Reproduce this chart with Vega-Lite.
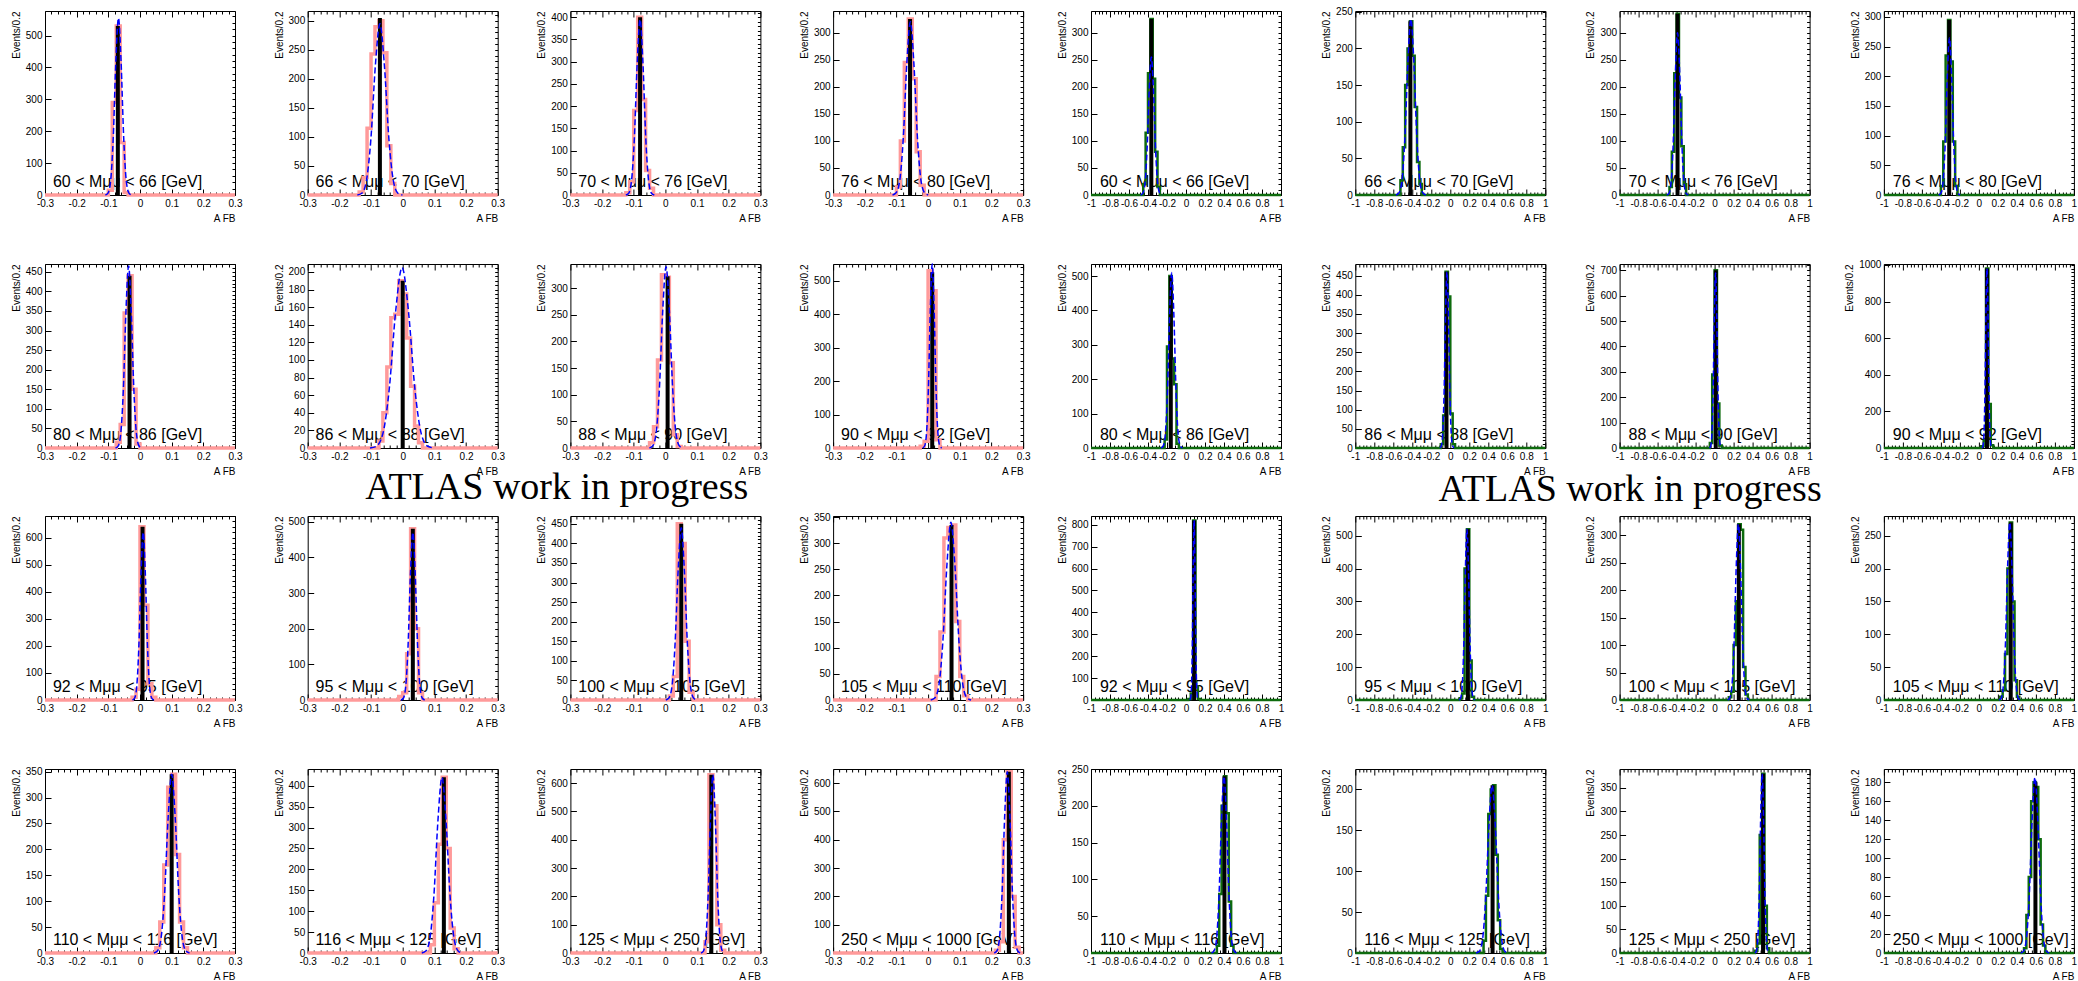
{
"$schema":"https://vega.github.io/schema/vega-lite/v6.json",
"padding":{"left":10,"top":6,"right":0,"bottom":0},
"background":"white",
"config":{"font":"Liberation Sans","view":{"stroke":"black","strokeWidth":1},
"header":{"labels":false,"title":null,"labelFontSize":0.1,"labelPadding":0,"titlePadding":0,"labelExpr":"''"},
"headerFacet":{"labels":false,"title":null,"labelFontSize":0.1,"labelPadding":0,"titlePadding":0,"labelExpr":"''"},
"axis":{"grid":false,"domain":false,"labelFont":"Liberation Sans","labelFontSize":10,"labelColor":"black","tickColor":"black","tickWidth":1,"titleFont":"Liberation Sans","titleFontSize":10,"titleFontWeight":"normal","titleColor":"black"}},
"datasets":{
"tl":[
{"p":0,"s":"l","t":"60 < Mμμ < 66 [GeV]"},{"p":0,"s":"m","x":-0.3,"y":577},{"p":0,"s":"t","x":-0.07,"y":530},
{"p":0,"s":"h","x":-0.3,"y":0},{"p":0,"s":"h","x":-0.1,"y":15},{"p":0,"s":"h","x":-0.0875,"y":290},{"p":0,"s":"h","x":-0.075,"y":530},{"p":0,"s":"h","x":-0.0625,"y":165},{"p":0,"s":"h","x":-0.05,"y":8},{"p":0,"s":"h","x":-0.0375,"y":0},{"p":0,"s":"h","x":0.3,"y":0},
{"p":0,"s":"f","x":-0.1093,"y":0},{"p":0,"s":"f","x":-0.101,"y":6},{"p":0,"s":"f","x":-0.0928,"y":44},{"p":0,"s":"f","x":-0.0845,"y":180},{"p":0,"s":"f","x":-0.0763,"y":419},{"p":0,"s":"f","x":-0.068,"y":555},{"p":0,"s":"f","x":-0.0598,"y":419},{"p":0,"s":"f","x":-0.0515,"y":180},{"p":0,"s":"f","x":-0.0433,"y":44},{"p":0,"s":"f","x":-0.035,"y":6},{"p":0,"s":"f","x":-0.0268,"y":0},
{"p":1,"s":"l","t":"66 < Mμμ < 70 [GeV]"},{"p":1,"s":"m","x":-0.3,"y":317},{"p":1,"s":"t","x":-0.072,"y":305},
{"p":1,"s":"h","x":-0.3,"y":0},{"p":1,"s":"h","x":-0.1375,"y":5},{"p":1,"s":"h","x":-0.125,"y":30},{"p":1,"s":"h","x":-0.1125,"y":115},{"p":1,"s":"h","x":-0.1,"y":243},{"p":1,"s":"h","x":-0.0875,"y":290},{"p":1,"s":"h","x":-0.075,"y":300},{"p":1,"s":"h","x":-0.0625,"y":245},{"p":1,"s":"h","x":-0.05,"y":85},{"p":1,"s":"h","x":-0.0375,"y":20},{"p":1,"s":"h","x":-0.025,"y":0},{"p":1,"s":"h","x":0.3,"y":0},
{"p":1,"s":"f","x":-0.1433,"y":0},{"p":1,"s":"f","x":-0.129,"y":3},{"p":1,"s":"f","x":-0.1148,"y":24},{"p":1,"s":"f","x":-0.1005,"y":96},{"p":1,"s":"f","x":-0.0863,"y":223},{"p":1,"s":"f","x":-0.072,"y":295},{"p":1,"s":"f","x":-0.0578,"y":223},{"p":1,"s":"f","x":-0.0435,"y":96},{"p":1,"s":"f","x":-0.0293,"y":24},{"p":1,"s":"f","x":-0.015,"y":3},{"p":1,"s":"f","x":-0.0008,"y":0},
{"p":2,"s":"l","t":"70 < Mμμ < 76 [GeV]"},{"p":2,"s":"m","x":-0.3,"y":414},{"p":2,"s":"t","x":-0.08,"y":400},
{"p":2,"s":"h","x":-0.3,"y":0},{"p":2,"s":"h","x":-0.125,"y":5},{"p":2,"s":"h","x":-0.1125,"y":30},{"p":2,"s":"h","x":-0.1,"y":190},{"p":2,"s":"h","x":-0.0875,"y":400},{"p":2,"s":"h","x":-0.075,"y":215},{"p":2,"s":"h","x":-0.0625,"y":55},{"p":2,"s":"h","x":-0.05,"y":15},{"p":2,"s":"h","x":-0.0375,"y":0},{"p":2,"s":"h","x":0.3,"y":0},
{"p":2,"s":"f","x":-0.125,"y":0},{"p":2,"s":"f","x":-0.116,"y":4},{"p":2,"s":"f","x":-0.107,"y":32},{"p":2,"s":"f","x":-0.098,"y":128},{"p":2,"s":"f","x":-0.089,"y":298},{"p":2,"s":"f","x":-0.08,"y":395},{"p":2,"s":"f","x":-0.071,"y":298},{"p":2,"s":"f","x":-0.062,"y":128},{"p":2,"s":"f","x":-0.053,"y":32},{"p":2,"s":"f","x":-0.044,"y":4},{"p":2,"s":"f","x":-0.035,"y":0},
{"p":3,"s":"l","t":"76 < Mμμ < 80 [GeV]"},{"p":3,"s":"m","x":-0.3,"y":340},{"p":3,"s":"t","x":-0.057,"y":325},
{"p":3,"s":"h","x":-0.3,"y":0},{"p":3,"s":"h","x":-0.1,"y":15},{"p":3,"s":"h","x":-0.0875,"y":100},{"p":3,"s":"h","x":-0.075,"y":245},{"p":3,"s":"h","x":-0.0625,"y":325},{"p":3,"s":"h","x":-0.05,"y":215},{"p":3,"s":"h","x":-0.0375,"y":80},{"p":3,"s":"h","x":-0.025,"y":18},{"p":3,"s":"h","x":-0.0125,"y":0},{"p":3,"s":"h","x":0.3,"y":0},
{"p":3,"s":"f","x":-0.1123,"y":0},{"p":3,"s":"f","x":-0.101,"y":4},{"p":3,"s":"f","x":-0.0898,"y":26},{"p":3,"s":"f","x":-0.0785,"y":104},{"p":3,"s":"f","x":-0.0673,"y":242},{"p":3,"s":"f","x":-0.056,"y":320},{"p":3,"s":"f","x":-0.0448,"y":242},{"p":3,"s":"f","x":-0.0335,"y":104},{"p":3,"s":"f","x":-0.0223,"y":26},{"p":3,"s":"f","x":-0.011,"y":4},{"p":3,"s":"f","x":0.0003,"y":0},
{"p":8,"s":"l","t":"80 < Mμμ < 86 [GeV]"},{"p":8,"s":"m","x":-0.3,"y":470},{"p":8,"s":"t","x":-0.033,"y":440},
{"p":8,"s":"h","x":-0.3,"y":0},{"p":8,"s":"h","x":-0.075,"y":15},{"p":8,"s":"h","x":-0.0625,"y":60},{"p":8,"s":"h","x":-0.05,"y":345},{"p":8,"s":"h","x":-0.0375,"y":440},{"p":8,"s":"h","x":-0.025,"y":150},{"p":8,"s":"h","x":-0.0125,"y":10},{"p":8,"s":"h","x":0,"y":0},{"p":8,"s":"h","x":0.3,"y":0},
{"p":8,"s":"f","x":-0.0773,"y":0},{"p":8,"s":"f","x":-0.069,"y":5},{"p":8,"s":"f","x":-0.0608,"y":37},{"p":8,"s":"f","x":-0.0525,"y":151},{"p":8,"s":"f","x":-0.0443,"y":351},{"p":8,"s":"f","x":-0.036,"y":465},{"p":8,"s":"f","x":-0.0278,"y":351},{"p":8,"s":"f","x":-0.0195,"y":151},{"p":8,"s":"f","x":-0.0113,"y":37},{"p":8,"s":"f","x":-0.003,"y":5},{"p":8,"s":"f","x":0.0053,"y":0},
{"p":9,"s":"l","t":"86 < Mμμ < 88 [GeV]"},{"p":9,"s":"m","x":-0.3,"y":209},{"p":9,"s":"t","x":0,"y":190},
{"p":9,"s":"h","x":-0.3,"y":0},{"p":9,"s":"h","x":-0.075,"y":8},{"p":9,"s":"h","x":-0.0625,"y":40},{"p":9,"s":"h","x":-0.05,"y":92},{"p":9,"s":"h","x":-0.0375,"y":148},{"p":9,"s":"h","x":-0.025,"y":152},{"p":9,"s":"h","x":-0.0125,"y":190},{"p":9,"s":"h","x":0,"y":175},{"p":9,"s":"h","x":0.0125,"y":125},{"p":9,"s":"h","x":0.025,"y":70},{"p":9,"s":"h","x":0.0375,"y":25},{"p":9,"s":"h","x":0.05,"y":6},{"p":9,"s":"h","x":0.0625,"y":0},{"p":9,"s":"h","x":0.3,"y":0},
{"p":9,"s":"f","x":-0.1033,"y":0},{"p":9,"s":"f","x":-0.083,"y":2},{"p":9,"s":"f","x":-0.0628,"y":16},{"p":9,"s":"f","x":-0.0425,"y":67},{"p":9,"s":"f","x":-0.0223,"y":155},{"p":9,"s":"f","x":-0.002,"y":205},{"p":9,"s":"f","x":0.0183,"y":155},{"p":9,"s":"f","x":0.0385,"y":67},{"p":9,"s":"f","x":0.0588,"y":16},{"p":9,"s":"f","x":0.079,"y":2},{"p":9,"s":"f","x":0.0993,"y":0},
{"p":10,"s":"l","t":"88 < Mμμ < 90 [GeV]"},{"p":10,"s":"m","x":-0.3,"y":345},{"p":10,"s":"t","x":0.007,"y":322},
{"p":10,"s":"h","x":-0.3,"y":0},{"p":10,"s":"h","x":-0.05,"y":10},{"p":10,"s":"h","x":-0.0375,"y":40},{"p":10,"s":"h","x":-0.025,"y":165},{"p":10,"s":"h","x":-0.0125,"y":325},{"p":10,"s":"h","x":0,"y":320},{"p":10,"s":"h","x":0.0125,"y":160},{"p":10,"s":"h","x":0.025,"y":25},{"p":10,"s":"h","x":0.0375,"y":3},{"p":10,"s":"h","x":0.05,"y":0},{"p":10,"s":"h","x":0.3,"y":0},
{"p":10,"s":"f","x":-0.0505,"y":0},{"p":10,"s":"f","x":-0.04,"y":4},{"p":10,"s":"f","x":-0.0295,"y":27},{"p":10,"s":"f","x":-0.019,"y":111},{"p":10,"s":"f","x":-0.0085,"y":257},{"p":10,"s":"f","x":0.002,"y":340},{"p":10,"s":"f","x":0.0125,"y":257},{"p":10,"s":"f","x":0.023,"y":111},{"p":10,"s":"f","x":0.0335,"y":27},{"p":10,"s":"f","x":0.044,"y":4},{"p":10,"s":"f","x":0.0545,"y":0},
{"p":11,"s":"l","t":"90 < Mμμ < 92 [GeV]"},{"p":11,"s":"m","x":-0.3,"y":550},{"p":11,"s":"t","x":0.013,"y":525},
{"p":11,"s":"h","x":-0.3,"y":0},{"p":11,"s":"h","x":-0.025,"y":5},{"p":11,"s":"h","x":-0.0125,"y":20},{"p":11,"s":"h","x":0,"y":530},{"p":11,"s":"h","x":0.0125,"y":470},{"p":11,"s":"h","x":0.025,"y":25},{"p":11,"s":"h","x":0.0375,"y":0},{"p":11,"s":"h","x":0.3,"y":0},
{"p":11,"s":"f","x":-0.017,"y":0},{"p":11,"s":"f","x":-0.011,"y":6},{"p":11,"s":"f","x":-0.005,"y":44},{"p":11,"s":"f","x":0.001,"y":179},{"p":11,"s":"f","x":0.007,"y":415},{"p":11,"s":"f","x":0.013,"y":550},{"p":11,"s":"f","x":0.019,"y":415},{"p":11,"s":"f","x":0.025,"y":179},{"p":11,"s":"f","x":0.031,"y":44},{"p":11,"s":"f","x":0.037,"y":6},{"p":11,"s":"f","x":0.043,"y":0}
],
"tr":[
{"p":4,"s":"l","t":"60 < Mμμ < 66 [GeV]"},{"p":4,"s":"m","x":-1,"y":340},{"p":4,"s":"t","x":-0.365,"y":325},
{"p":4,"s":"h","x":-1,"y":0},{"p":4,"s":"h","x":-0.45,"y":20},{"p":4,"s":"h","x":-0.425,"y":115},{"p":4,"s":"h","x":-0.4,"y":225},{"p":4,"s":"h","x":-0.375,"y":325},{"p":4,"s":"h","x":-0.35,"y":215},{"p":4,"s":"h","x":-0.325,"y":80},{"p":4,"s":"h","x":-0.3,"y":15},{"p":4,"s":"h","x":-0.275,"y":0},{"p":4,"s":"h","x":1,"y":0},
{"p":4,"s":"f","x":-0.4775,"y":0},{"p":4,"s":"f","x":-0.455,"y":3},{"p":4,"s":"f","x":-0.4325,"y":20},{"p":4,"s":"f","x":-0.41,"y":83},{"p":4,"s":"f","x":-0.3875,"y":193},{"p":4,"s":"f","x":-0.365,"y":255},{"p":4,"s":"f","x":-0.3425,"y":193},{"p":4,"s":"f","x":-0.32,"y":83},{"p":4,"s":"f","x":-0.2975,"y":20},{"p":4,"s":"f","x":-0.275,"y":3},{"p":4,"s":"f","x":-0.2525,"y":0},
{"p":5,"s":"l","t":"66 < Mμμ < 70 [GeV]"},{"p":5,"s":"m","x":-1,"y":251},{"p":5,"s":"t","x":-0.42,"y":237},
{"p":5,"s":"h","x":-1,"y":0},{"p":5,"s":"h","x":-0.525,"y":20},{"p":5,"s":"h","x":-0.5,"y":65},{"p":5,"s":"h","x":-0.475,"y":150},{"p":5,"s":"h","x":-0.45,"y":200},{"p":5,"s":"h","x":-0.425,"y":237},{"p":5,"s":"h","x":-0.4,"y":190},{"p":5,"s":"h","x":-0.375,"y":120},{"p":5,"s":"h","x":-0.35,"y":45},{"p":5,"s":"h","x":-0.325,"y":15},{"p":5,"s":"h","x":-0.3,"y":0},{"p":5,"s":"h","x":1,"y":0},
{"p":5,"s":"f","x":-0.5725,"y":0},{"p":5,"s":"f","x":-0.541,"y":3},{"p":5,"s":"f","x":-0.5095,"y":19},{"p":5,"s":"f","x":-0.478,"y":78},{"p":5,"s":"f","x":-0.4465,"y":181},{"p":5,"s":"f","x":-0.415,"y":240},{"p":5,"s":"f","x":-0.3835,"y":181},{"p":5,"s":"f","x":-0.352,"y":78},{"p":5,"s":"f","x":-0.3205,"y":19},{"p":5,"s":"f","x":-0.289,"y":3},{"p":5,"s":"f","x":-0.2575,"y":0},
{"p":6,"s":"l","t":"70 < Mμμ < 76 [GeV]"},{"p":6,"s":"m","x":-1,"y":340},{"p":6,"s":"t","x":-0.39,"y":335},
{"p":6,"s":"h","x":-1,"y":0},{"p":6,"s":"h","x":-0.475,"y":15},{"p":6,"s":"h","x":-0.45,"y":80},{"p":6,"s":"h","x":-0.425,"y":225},{"p":6,"s":"h","x":-0.4,"y":335},{"p":6,"s":"h","x":-0.375,"y":180},{"p":6,"s":"h","x":-0.35,"y":90},{"p":6,"s":"h","x":-0.325,"y":20},{"p":6,"s":"h","x":-0.3,"y":0},{"p":6,"s":"h","x":1,"y":0},
{"p":6,"s":"f","x":-0.5025,"y":0},{"p":6,"s":"f","x":-0.48,"y":3},{"p":6,"s":"f","x":-0.4575,"y":24},{"p":6,"s":"f","x":-0.435,"y":98},{"p":6,"s":"f","x":-0.4125,"y":227},{"p":6,"s":"f","x":-0.39,"y":300},{"p":6,"s":"f","x":-0.3675,"y":227},{"p":6,"s":"f","x":-0.345,"y":98},{"p":6,"s":"f","x":-0.3225,"y":24},{"p":6,"s":"f","x":-0.3,"y":3},{"p":6,"s":"f","x":-0.2775,"y":0},
{"p":7,"s":"l","t":"76 < Mμμ < 80 [GeV]"},{"p":7,"s":"m","x":-1,"y":310},{"p":7,"s":"t","x":-0.3125,"y":295},
{"p":7,"s":"h","x":-1,"y":0},{"p":7,"s":"h","x":-0.4,"y":15},{"p":7,"s":"h","x":-0.375,"y":90},{"p":7,"s":"h","x":-0.35,"y":235},{"p":7,"s":"h","x":-0.325,"y":295},{"p":7,"s":"h","x":-0.3,"y":225},{"p":7,"s":"h","x":-0.275,"y":90},{"p":7,"s":"h","x":-0.25,"y":15},{"p":7,"s":"h","x":-0.225,"y":0},{"p":7,"s":"h","x":1,"y":0},
{"p":7,"s":"f","x":-0.4225,"y":0},{"p":7,"s":"f","x":-0.4,"y":3},{"p":7,"s":"f","x":-0.3775,"y":21},{"p":7,"s":"f","x":-0.355,"y":86},{"p":7,"s":"f","x":-0.3325,"y":200},{"p":7,"s":"f","x":-0.31,"y":265},{"p":7,"s":"f","x":-0.2875,"y":200},{"p":7,"s":"f","x":-0.265,"y":86},{"p":7,"s":"f","x":-0.2425,"y":21},{"p":7,"s":"f","x":-0.22,"y":3},{"p":7,"s":"f","x":-0.1975,"y":0},
{"p":12,"s":"l","t":"80 < Mμμ < 86 [GeV]"},{"p":12,"s":"m","x":-1,"y":535},{"p":12,"s":"t","x":-0.16,"y":500},
{"p":12,"s":"h","x":-1,"y":0},{"p":12,"s":"h","x":-0.225,"y":25},{"p":12,"s":"h","x":-0.2,"y":295},{"p":12,"s":"h","x":-0.175,"y":500},{"p":12,"s":"h","x":-0.15,"y":260},{"p":12,"s":"h","x":-0.125,"y":185},{"p":12,"s":"h","x":-0.1,"y":12},{"p":12,"s":"h","x":-0.075,"y":0},{"p":12,"s":"h","x":1,"y":0},
{"p":12,"s":"f","x":-0.2625,"y":0},{"p":12,"s":"f","x":-0.24,"y":6},{"p":12,"s":"f","x":-0.2175,"y":41},{"p":12,"s":"f","x":-0.195,"y":166},{"p":12,"s":"f","x":-0.1725,"y":385},{"p":12,"s":"f","x":-0.15,"y":510},{"p":12,"s":"f","x":-0.1275,"y":385},{"p":12,"s":"f","x":-0.105,"y":166},{"p":12,"s":"f","x":-0.0825,"y":41},{"p":12,"s":"f","x":-0.06,"y":6},{"p":12,"s":"f","x":-0.0375,"y":0},
{"p":13,"s":"l","t":"86 < Mμμ < 88 [GeV]"},{"p":13,"s":"m","x":-1,"y":480},{"p":13,"s":"t","x":-0.04,"y":460},
{"p":13,"s":"h","x":-1,"y":0},{"p":13,"s":"h","x":-0.1,"y":10},{"p":13,"s":"h","x":-0.075,"y":85},{"p":13,"s":"h","x":-0.05,"y":460},{"p":13,"s":"h","x":-0.025,"y":395},{"p":13,"s":"h","x":0,"y":90},{"p":13,"s":"h","x":0.025,"y":10},{"p":13,"s":"h","x":0.05,"y":0},{"p":13,"s":"h","x":1,"y":0},
{"p":13,"s":"f","x":-0.11,"y":0},{"p":13,"s":"f","x":-0.095,"y":5},{"p":13,"s":"f","x":-0.08,"y":37},{"p":13,"s":"f","x":-0.065,"y":150},{"p":13,"s":"f","x":-0.05,"y":347},{"p":13,"s":"f","x":-0.035,"y":460},{"p":13,"s":"f","x":-0.02,"y":347},{"p":13,"s":"f","x":-0.005,"y":150},{"p":13,"s":"f","x":0.01,"y":37},{"p":13,"s":"f","x":0.025,"y":5},{"p":13,"s":"f","x":0.04,"y":0},
{"p":14,"s":"l","t":"88 < Mμμ < 90 [GeV]"},{"p":14,"s":"m","x":-1,"y":725},{"p":14,"s":"t","x":0.012,"y":700},
{"p":14,"s":"h","x":-1,"y":0},{"p":14,"s":"h","x":-0.05,"y":20},{"p":14,"s":"h","x":-0.025,"y":290},{"p":14,"s":"h","x":0,"y":700},{"p":14,"s":"h","x":0.025,"y":175},{"p":14,"s":"h","x":0.05,"y":10},{"p":14,"s":"h","x":0.075,"y":0},{"p":14,"s":"h","x":1,"y":0},
{"p":14,"s":"f","x":-0.0538,"y":0},{"p":14,"s":"f","x":-0.041,"y":8},{"p":14,"s":"f","x":-0.0283,"y":55},{"p":14,"s":"f","x":-0.0155,"y":224},{"p":14,"s":"f","x":-0.0028,"y":521},{"p":14,"s":"f","x":0.01,"y":690},{"p":14,"s":"f","x":0.0228,"y":521},{"p":14,"s":"f","x":0.0355,"y":224},{"p":14,"s":"f","x":0.0483,"y":55},{"p":14,"s":"f","x":0.061,"y":8},{"p":14,"s":"f","x":0.0738,"y":0},
{"p":15,"s":"l","t":"90 < Mμμ < 92 [GeV]"},{"p":15,"s":"m","x":-1,"y":1005},{"p":15,"s":"t","x":0.085,"y":980},
{"p":15,"s":"h","x":-1,"y":0},{"p":15,"s":"h","x":0.025,"y":10},{"p":15,"s":"h","x":0.05,"y":40},{"p":15,"s":"h","x":0.075,"y":980},{"p":15,"s":"h","x":0.1,"y":240},{"p":15,"s":"h","x":0.125,"y":15},{"p":15,"s":"h","x":0.15,"y":0},{"p":15,"s":"h","x":1,"y":0},
{"p":15,"s":"f","x":0.0325,"y":0},{"p":15,"s":"f","x":0.043,"y":11},{"p":15,"s":"f","x":0.0535,"y":78},{"p":15,"s":"f","x":0.064,"y":319},{"p":15,"s":"f","x":0.0745,"y":740},{"p":15,"s":"f","x":0.085,"y":980},{"p":15,"s":"f","x":0.0955,"y":740},{"p":15,"s":"f","x":0.106,"y":319},{"p":15,"s":"f","x":0.1165,"y":78},{"p":15,"s":"f","x":0.127,"y":11},{"p":15,"s":"f","x":0.1375,"y":0}
],
"bl":[
{"p":16,"s":"l","t":"92 < Mμμ < 95 [GeV]"},{"p":16,"s":"m","x":-0.3,"y":680},{"p":16,"s":"t","x":0.008,"y":640},
{"p":16,"s":"h","x":-0.3,"y":0},{"p":16,"s":"h","x":-0.025,"y":10},{"p":16,"s":"h","x":-0.0125,"y":40},{"p":16,"s":"h","x":0,"y":640},{"p":16,"s":"h","x":0.0125,"y":350},{"p":16,"s":"h","x":0.025,"y":60},{"p":16,"s":"h","x":0.0375,"y":10},{"p":16,"s":"h","x":0.05,"y":0},{"p":16,"s":"h","x":0.3,"y":0},
{"p":16,"s":"f","x":-0.0238,"y":0},{"p":16,"s":"f","x":-0.017,"y":7},{"p":16,"s":"f","x":-0.0103,"y":50},{"p":16,"s":"f","x":-0.0035,"y":202},{"p":16,"s":"f","x":0.0033,"y":468},{"p":16,"s":"f","x":0.01,"y":620},{"p":16,"s":"f","x":0.0168,"y":468},{"p":16,"s":"f","x":0.0235,"y":202},{"p":16,"s":"f","x":0.0303,"y":50},{"p":16,"s":"f","x":0.037,"y":7},{"p":16,"s":"f","x":0.0438,"y":0},
{"p":17,"s":"l","t":"95 < Mμμ < 100 [GeV]"},{"p":17,"s":"m","x":-0.3,"y":516},{"p":17,"s":"t","x":0.032,"y":480},
{"p":17,"s":"h","x":-0.3,"y":0},{"p":17,"s":"h","x":-0.0125,"y":10},{"p":17,"s":"h","x":0,"y":20},{"p":17,"s":"h","x":0.0125,"y":130},{"p":17,"s":"h","x":0.025,"y":480},{"p":17,"s":"h","x":0.0375,"y":200},{"p":17,"s":"h","x":0.05,"y":20},{"p":17,"s":"h","x":0.0625,"y":0},{"p":17,"s":"h","x":0.3,"y":0},
{"p":17,"s":"f","x":-0.0055,"y":0},{"p":17,"s":"f","x":0.002,"y":5},{"p":17,"s":"f","x":0.0095,"y":38},{"p":17,"s":"f","x":0.017,"y":153},{"p":17,"s":"f","x":0.0245,"y":355},{"p":17,"s":"f","x":0.032,"y":470},{"p":17,"s":"f","x":0.0395,"y":355},{"p":17,"s":"f","x":0.047,"y":153},{"p":17,"s":"f","x":0.0545,"y":38},{"p":17,"s":"f","x":0.062,"y":5},{"p":17,"s":"f","x":0.0695,"y":0},
{"p":18,"s":"l","t":"100 < Mμμ < 105 [GeV]"},{"p":18,"s":"m","x":-0.3,"y":470},{"p":18,"s":"t","x":0.05,"y":450},
{"p":18,"s":"h","x":-0.3,"y":0},{"p":18,"s":"h","x":0.0125,"y":10},{"p":18,"s":"h","x":0.025,"y":60},{"p":18,"s":"h","x":0.0375,"y":450},{"p":18,"s":"h","x":0.05,"y":400},{"p":18,"s":"h","x":0.0625,"y":150},{"p":18,"s":"h","x":0.075,"y":20},{"p":18,"s":"h","x":0.0875,"y":0},{"p":18,"s":"h","x":0.3,"y":0},
{"p":18,"s":"f","x":0.0013,"y":0},{"p":18,"s":"f","x":0.011,"y":5},{"p":18,"s":"f","x":0.0208,"y":35},{"p":18,"s":"f","x":0.0305,"y":143},{"p":18,"s":"f","x":0.0403,"y":332},{"p":18,"s":"f","x":0.05,"y":440},{"p":18,"s":"f","x":0.0598,"y":332},{"p":18,"s":"f","x":0.0695,"y":143},{"p":18,"s":"f","x":0.0793,"y":35},{"p":18,"s":"f","x":0.089,"y":5},{"p":18,"s":"f","x":0.0988,"y":0},
{"p":19,"s":"l","t":"105 < Mμμ < 110 [GeV]"},{"p":19,"s":"m","x":-0.3,"y":352},{"p":19,"s":"t","x":0.074,"y":335},
{"p":19,"s":"h","x":-0.3,"y":0},{"p":19,"s":"h","x":0.025,"y":45},{"p":19,"s":"h","x":0.0375,"y":130},{"p":19,"s":"h","x":0.05,"y":310},{"p":19,"s":"h","x":0.0625,"y":330},{"p":19,"s":"h","x":0.075,"y":335},{"p":19,"s":"h","x":0.0875,"y":150},{"p":19,"s":"h","x":0.1,"y":45},{"p":19,"s":"h","x":0.1125,"y":8},{"p":19,"s":"h","x":0.125,"y":0},{"p":19,"s":"h","x":0.3,"y":0},
{"p":19,"s":"f","x":0.0083,"y":0},{"p":19,"s":"f","x":0.021,"y":4},{"p":19,"s":"f","x":0.0338,"y":27},{"p":19,"s":"f","x":0.0465,"y":111},{"p":19,"s":"f","x":0.0593,"y":257},{"p":19,"s":"f","x":0.072,"y":340},{"p":19,"s":"f","x":0.0848,"y":257},{"p":19,"s":"f","x":0.0975,"y":111},{"p":19,"s":"f","x":0.1103,"y":27},{"p":19,"s":"f","x":0.123,"y":4},{"p":19,"s":"f","x":0.1358,"y":0},
{"p":24,"s":"l","t":"110 < Mμμ < 116 [GeV]"},{"p":24,"s":"m","x":-0.3,"y":355},{"p":24,"s":"t","x":0.1,"y":345},
{"p":24,"s":"h","x":-0.3,"y":0},{"p":24,"s":"h","x":0.05,"y":10},{"p":24,"s":"h","x":0.0625,"y":60},{"p":24,"s":"h","x":0.075,"y":170},{"p":24,"s":"h","x":0.0875,"y":320},{"p":24,"s":"h","x":0.1,"y":345},{"p":24,"s":"h","x":0.1125,"y":190},{"p":24,"s":"h","x":0.125,"y":60},{"p":24,"s":"h","x":0.1375,"y":10},{"p":24,"s":"h","x":0.15,"y":0},{"p":24,"s":"h","x":0.3,"y":0},
{"p":24,"s":"f","x":0.0438,"y":0},{"p":24,"s":"f","x":0.055,"y":4},{"p":24,"s":"f","x":0.0663,"y":28},{"p":24,"s":"f","x":0.0775,"y":112},{"p":24,"s":"f","x":0.0888,"y":260},{"p":24,"s":"f","x":0.1,"y":345},{"p":24,"s":"f","x":0.1113,"y":260},{"p":24,"s":"f","x":0.1225,"y":112},{"p":24,"s":"f","x":0.1338,"y":28},{"p":24,"s":"f","x":0.145,"y":4},{"p":24,"s":"f","x":0.1563,"y":0},
{"p":25,"s":"l","t":"116 < Mμμ < 125 [GeV]"},{"p":25,"s":"m","x":-0.3,"y":440},{"p":25,"s":"t","x":0.13,"y":420},
{"p":25,"s":"h","x":-0.3,"y":0},{"p":25,"s":"h","x":0.0875,"y":20},{"p":25,"s":"h","x":0.1,"y":120},{"p":25,"s":"h","x":0.1125,"y":260},{"p":25,"s":"h","x":0.125,"y":420},{"p":25,"s":"h","x":0.1375,"y":250},{"p":25,"s":"h","x":0.15,"y":60},{"p":25,"s":"h","x":0.1625,"y":10},{"p":25,"s":"h","x":0.175,"y":0},{"p":25,"s":"h","x":0.3,"y":0},
{"p":25,"s":"f","x":0.0603,"y":0},{"p":25,"s":"f","x":0.073,"y":5},{"p":25,"s":"f","x":0.0858,"y":34},{"p":25,"s":"f","x":0.0985,"y":137},{"p":25,"s":"f","x":0.1113,"y":317},{"p":25,"s":"f","x":0.124,"y":420},{"p":25,"s":"f","x":0.1368,"y":317},{"p":25,"s":"f","x":0.1495,"y":137},{"p":25,"s":"f","x":0.1623,"y":34},{"p":25,"s":"f","x":0.175,"y":5},{"p":25,"s":"f","x":0.1878,"y":0},
{"p":26,"s":"l","t":"125 < Mμμ < 250 [GeV]"},{"p":26,"s":"m","x":-0.3,"y":650},{"p":26,"s":"t","x":0.145,"y":630},
{"p":26,"s":"h","x":-0.3,"y":0},{"p":26,"s":"h","x":0.125,"y":40},{"p":26,"s":"h","x":0.1375,"y":630},{"p":26,"s":"h","x":0.15,"y":520},{"p":26,"s":"h","x":0.1625,"y":100},{"p":26,"s":"h","x":0.175,"y":10},{"p":26,"s":"h","x":0.1875,"y":0},{"p":26,"s":"h","x":0.3,"y":0},
{"p":26,"s":"f","x":0.1125,"y":0},{"p":26,"s":"f","x":0.12,"y":7},{"p":26,"s":"f","x":0.1275,"y":50},{"p":26,"s":"f","x":0.135,"y":205},{"p":26,"s":"f","x":0.1425,"y":476},{"p":26,"s":"f","x":0.15,"y":630},{"p":26,"s":"f","x":0.1575,"y":476},{"p":26,"s":"f","x":0.165,"y":205},{"p":26,"s":"f","x":0.1725,"y":50},{"p":26,"s":"f","x":0.18,"y":7},{"p":26,"s":"f","x":0.1875,"y":0},
{"p":27,"s":"l","t":"250 < Mμμ < 1000 [GeV]"},{"p":27,"s":"m","x":-0.3,"y":650},{"p":27,"s":"t","x":0.255,"y":640},
{"p":27,"s":"h","x":-0.3,"y":0},{"p":27,"s":"h","x":0.2125,"y":10},{"p":27,"s":"h","x":0.225,"y":40},{"p":27,"s":"h","x":0.2375,"y":400},{"p":27,"s":"h","x":0.25,"y":640},{"p":27,"s":"h","x":0.2625,"y":200},{"p":27,"s":"h","x":0.275,"y":20},{"p":27,"s":"h","x":0.2875,"y":0},{"p":27,"s":"h","x":0.3,"y":0},
{"p":27,"s":"f","x":0.2088,"y":0},{"p":27,"s":"f","x":0.217,"y":7},{"p":27,"s":"f","x":0.2253,"y":51},{"p":27,"s":"f","x":0.2335,"y":208},{"p":27,"s":"f","x":0.2418,"y":483},{"p":27,"s":"f","x":0.25,"y":640},{"p":27,"s":"f","x":0.2583,"y":483},{"p":27,"s":"f","x":0.2665,"y":208},{"p":27,"s":"f","x":0.2748,"y":51},{"p":27,"s":"f","x":0.283,"y":7},{"p":27,"s":"f","x":0.2913,"y":0}
],
"br":[
{"p":20,"s":"l","t":"92 < Mμμ < 95 [GeV]"},{"p":20,"s":"m","x":-1,"y":840},{"p":20,"s":"t","x":0.085,"y":820},
{"p":20,"s":"h","x":-1,"y":0},{"p":20,"s":"h","x":0.025,"y":5},{"p":20,"s":"h","x":0.05,"y":30},{"p":20,"s":"h","x":0.075,"y":820},{"p":20,"s":"h","x":0.1,"y":60},{"p":20,"s":"h","x":0.125,"y":5},{"p":20,"s":"h","x":0.15,"y":0},{"p":20,"s":"h","x":1,"y":0},
{"p":20,"s":"f","x":0.04,"y":0},{"p":20,"s":"f","x":0.049,"y":9},{"p":20,"s":"f","x":0.058,"y":66},{"p":20,"s":"f","x":0.067,"y":267},{"p":20,"s":"f","x":0.076,"y":619},{"p":20,"s":"f","x":0.085,"y":820},{"p":20,"s":"f","x":0.094,"y":619},{"p":20,"s":"f","x":0.103,"y":267},{"p":20,"s":"f","x":0.112,"y":66},{"p":20,"s":"f","x":0.121,"y":9},{"p":20,"s":"f","x":0.13,"y":0},
{"p":21,"s":"l","t":"95 < Mμμ < 100 [GeV]"},{"p":21,"s":"m","x":-1,"y":560},{"p":21,"s":"t","x":0.185,"y":520},
{"p":21,"s":"h","x":-1,"y":0},{"p":21,"s":"h","x":0.1,"y":5},{"p":21,"s":"h","x":0.125,"y":20},{"p":21,"s":"h","x":0.15,"y":400},{"p":21,"s":"h","x":0.175,"y":520},{"p":21,"s":"h","x":0.2,"y":120},{"p":21,"s":"h","x":0.225,"y":10},{"p":21,"s":"h","x":0.25,"y":0},{"p":21,"s":"h","x":1,"y":0},
{"p":21,"s":"f","x":0.0925,"y":0},{"p":21,"s":"f","x":0.109,"y":6},{"p":21,"s":"f","x":0.1255,"y":42},{"p":21,"s":"f","x":0.142,"y":169},{"p":21,"s":"f","x":0.1585,"y":393},{"p":21,"s":"f","x":0.175,"y":520},{"p":21,"s":"f","x":0.1915,"y":393},{"p":21,"s":"f","x":0.208,"y":169},{"p":21,"s":"f","x":0.2245,"y":42},{"p":21,"s":"f","x":0.241,"y":6},{"p":21,"s":"f","x":0.2575,"y":0},
{"p":22,"s":"l","t":"100 < Mμμ < 105 [GeV]"},{"p":22,"s":"m","x":-1,"y":335},{"p":22,"s":"t","x":0.255,"y":320},
{"p":22,"s":"h","x":-1,"y":0},{"p":22,"s":"h","x":0.15,"y":5},{"p":22,"s":"h","x":0.175,"y":15},{"p":22,"s":"h","x":0.2,"y":100},{"p":22,"s":"h","x":0.225,"y":180},{"p":22,"s":"h","x":0.25,"y":320},{"p":22,"s":"h","x":0.275,"y":310},{"p":22,"s":"h","x":0.3,"y":60},{"p":22,"s":"h","x":0.325,"y":10},{"p":22,"s":"h","x":0.35,"y":0},{"p":22,"s":"h","x":1,"y":0},
{"p":22,"s":"f","x":0.1375,"y":0},{"p":22,"s":"f","x":0.16,"y":4},{"p":22,"s":"f","x":0.1825,"y":26},{"p":22,"s":"f","x":0.205,"y":104},{"p":22,"s":"f","x":0.2275,"y":242},{"p":22,"s":"f","x":0.25,"y":320},{"p":22,"s":"f","x":0.2725,"y":242},{"p":22,"s":"f","x":0.295,"y":104},{"p":22,"s":"f","x":0.3175,"y":26},{"p":22,"s":"f","x":0.34,"y":4},{"p":22,"s":"f","x":0.3625,"y":0},
{"p":23,"s":"l","t":"105 < Mμμ < 110 [GeV]"},{"p":23,"s":"m","x":-1,"y":280},{"p":23,"s":"t","x":0.335,"y":270},
{"p":23,"s":"h","x":-1,"y":0},{"p":23,"s":"h","x":0.225,"y":5},{"p":23,"s":"h","x":0.25,"y":15},{"p":23,"s":"h","x":0.275,"y":70},{"p":23,"s":"h","x":0.3,"y":200},{"p":23,"s":"h","x":0.325,"y":270},{"p":23,"s":"h","x":0.35,"y":150},{"p":23,"s":"h","x":0.375,"y":30},{"p":23,"s":"h","x":0.4,"y":5},{"p":23,"s":"h","x":0.425,"y":0},{"p":23,"s":"h","x":1,"y":0},
{"p":23,"s":"f","x":0.2125,"y":0},{"p":23,"s":"f","x":0.235,"y":3},{"p":23,"s":"f","x":0.2575,"y":22},{"p":23,"s":"f","x":0.28,"y":88},{"p":23,"s":"f","x":0.3025,"y":204},{"p":23,"s":"f","x":0.325,"y":270},{"p":23,"s":"f","x":0.3475,"y":204},{"p":23,"s":"f","x":0.37,"y":88},{"p":23,"s":"f","x":0.3925,"y":22},{"p":23,"s":"f","x":0.415,"y":3},{"p":23,"s":"f","x":0.4375,"y":0},
{"p":28,"s":"l","t":"110 < Mμμ < 116 [GeV]"},{"p":28,"s":"m","x":-1,"y":250},{"p":28,"s":"t","x":0.405,"y":240},
{"p":28,"s":"h","x":-1,"y":0},{"p":28,"s":"h","x":0.325,"y":10},{"p":28,"s":"h","x":0.35,"y":80},{"p":28,"s":"h","x":0.375,"y":200},{"p":28,"s":"h","x":0.4,"y":240},{"p":28,"s":"h","x":0.425,"y":190},{"p":28,"s":"h","x":0.45,"y":70},{"p":28,"s":"h","x":0.475,"y":10},{"p":28,"s":"h","x":0.5,"y":0},{"p":28,"s":"h","x":1,"y":0},
{"p":28,"s":"f","x":0.2688,"y":0},{"p":28,"s":"f","x":0.295,"y":3},{"p":28,"s":"f","x":0.3213,"y":19},{"p":28,"s":"f","x":0.3475,"y":78},{"p":28,"s":"f","x":0.3738,"y":181},{"p":28,"s":"f","x":0.4,"y":240},{"p":28,"s":"f","x":0.4263,"y":181},{"p":28,"s":"f","x":0.4525,"y":78},{"p":28,"s":"f","x":0.4788,"y":19},{"p":28,"s":"f","x":0.505,"y":3},{"p":28,"s":"f","x":0.5313,"y":0},
{"p":29,"s":"l","t":"116 < Mμμ < 125 [GeV]"},{"p":29,"s":"m","x":-1,"y":225},{"p":29,"s":"t","x":0.445,"y":205},
{"p":29,"s":"h","x":-1,"y":0},{"p":29,"s":"h","x":0.35,"y":15},{"p":29,"s":"h","x":0.375,"y":70},{"p":29,"s":"h","x":0.4,"y":170},{"p":29,"s":"h","x":0.425,"y":200},{"p":29,"s":"h","x":0.45,"y":205},{"p":29,"s":"h","x":0.475,"y":120},{"p":29,"s":"h","x":0.5,"y":40},{"p":29,"s":"h","x":0.525,"y":5},{"p":29,"s":"h","x":0.55,"y":0},{"p":29,"s":"h","x":1,"y":0},
{"p":29,"s":"f","x":0.2713,"y":0},{"p":29,"s":"f","x":0.305,"y":2},{"p":29,"s":"f","x":0.3388,"y":16},{"p":29,"s":"f","x":0.3725,"y":67},{"p":29,"s":"f","x":0.4063,"y":155},{"p":29,"s":"f","x":0.44,"y":205},{"p":29,"s":"f","x":0.4738,"y":155},{"p":29,"s":"f","x":0.5075,"y":67},{"p":29,"s":"f","x":0.5413,"y":16},{"p":29,"s":"f","x":0.575,"y":2},{"p":29,"s":"f","x":0.6088,"y":0},
{"p":30,"s":"l","t":"125 < Mμμ < 250 [GeV]"},{"p":30,"s":"m","x":-1,"y":390},{"p":30,"s":"t","x":0.51,"y":380},
{"p":30,"s":"h","x":-1,"y":0},{"p":30,"s":"h","x":0.425,"y":5},{"p":30,"s":"h","x":0.45,"y":20},{"p":30,"s":"h","x":0.475,"y":250},{"p":30,"s":"h","x":0.5,"y":380},{"p":30,"s":"h","x":0.525,"y":100},{"p":30,"s":"h","x":0.55,"y":10},{"p":30,"s":"h","x":0.575,"y":0},{"p":30,"s":"h","x":1,"y":0},
{"p":30,"s":"f","x":0.425,"y":0},{"p":30,"s":"f","x":0.44,"y":4},{"p":30,"s":"f","x":0.455,"y":30},{"p":30,"s":"f","x":0.47,"y":124},{"p":30,"s":"f","x":0.485,"y":287},{"p":30,"s":"f","x":0.5,"y":380},{"p":30,"s":"f","x":0.515,"y":287},{"p":30,"s":"f","x":0.53,"y":124},{"p":30,"s":"f","x":0.545,"y":30},{"p":30,"s":"f","x":0.56,"y":4},{"p":30,"s":"f","x":0.575,"y":0},
{"p":31,"s":"l","t":"250 < Mμμ < 1000 [GeV]"},{"p":31,"s":"m","x":-1,"y":194},{"p":31,"s":"t","x":0.595,"y":180},
{"p":31,"s":"h","x":-1,"y":0},{"p":31,"s":"h","x":0.475,"y":5},{"p":31,"s":"h","x":0.5,"y":40},{"p":31,"s":"h","x":0.525,"y":80},{"p":31,"s":"h","x":0.55,"y":160},{"p":31,"s":"h","x":0.575,"y":180},{"p":31,"s":"h","x":0.6,"y":175},{"p":31,"s":"h","x":0.625,"y":120},{"p":31,"s":"h","x":0.65,"y":30},{"p":31,"s":"h","x":0.675,"y":8},{"p":31,"s":"h","x":0.7,"y":0},{"p":31,"s":"h","x":1,"y":0},
{"p":31,"s":"f","x":0.44,"y":0},{"p":31,"s":"f","x":0.47,"y":2},{"p":31,"s":"f","x":0.5,"y":15},{"p":31,"s":"f","x":0.53,"y":60},{"p":31,"s":"f","x":0.56,"y":140},{"p":31,"s":"f","x":0.59,"y":185},{"p":31,"s":"f","x":0.62,"y":140},{"p":31,"s":"f","x":0.65,"y":60},{"p":31,"s":"f","x":0.68,"y":15},{"p":31,"s":"f","x":0.71,"y":2},{"p":31,"s":"f","x":0.74,"y":0}
]},
"spacing":-8,
"vconcat":[
{"hconcat":[
{"data":{"name":"tl"},"facet":{"field":"p","type":"ordinal","title":null,"header":{"labels":false,"title":null,"labelFontSize":0.1,"labelPadding":0,"titlePadding":0,"labelExpr":"''"}},"columns":4,"bounds":"flush","spacing":{"row":69,"column":72.7},
"resolve":{"scale":{"y":"independent"},"axis":{"x":"independent","y":"independent"}},
"spec":{"width":190,"height":184,"layer":[
{"transform":[{"filter":"datum.s=='l'"}],"mark":{"type":"text","align":"left","baseline":"alphabetic","dy":-8,"fontSize":16,"font":"Liberation Sans","color":"black"},"encoding":{"x":{"datum":-0.275,"axis":null},"y":{"datum":0,"axis":null},"text":{"field":"t"}}},
{"transform":[{"filter":"datum.s=='m'"}],"mark":{"type":"point","opacity":0},"encoding":{"x":{"field":"x","type":"quantitative","axis":null},"y":{"field":"y","type":"quantitative","axis":null}}},
{"transform":[{"filter":"datum.s=='h'"}],"mark":{"type":"line","interpolate":"step-after","stroke":"#ff9a9a","strokeWidth":3.5},"encoding":{
"x":{"field":"x","type":"quantitative","scale":{"domain":[-0.3,0.3],"nice":false,"zero":false},"axis":{"orient":"bottom","values":[-0.3,-0.28,-0.26,-0.24,-0.22,-0.2,-0.18,-0.16,-0.14,-0.12,-0.1,-0.08,-0.06,-0.04,-0.02,0,0.02,0.04,0.06,0.08,0.1,0.12,0.14,0.16,0.18,0.2,0.22,0.24,0.26,0.28,0.3],"format":"~g","labelExpr":"abs(datum.value*10-round(datum.value*10))<0.001 ? replace(datum.label,'−','-') : ''","tickSize":{"condition":{"test":"abs(datum.value*10-round(datum.value*10))<0.001","value":-6},"value":-3},"labelPadding":9,"labelFlush":false,"labelOverlap":false,"title":"A FB","titleAnchor":"end","titlePadding":2}},
"y":{"field":"y","type":"quantitative","scale":{"nice":false,"zero":true},"axis":{"orient":"left","tickCount":7,"tickSize":-6,"labelPadding":9,"format":"d","title":"Events/0.2","titleAnchor":"end","titlePadding":4}}}},
{"transform":[{"filter":"datum.s=='t'"}],"mark":{"type":"rule","color":"black","strokeWidth":4},"encoding":{"x":{"field":"x","type":"quantitative","axis":null},"y":{"field":"y","type":"quantitative","axis":null},"y2":{"datum":0}}},
{"transform":[{"filter":"datum.s=='f'"}],"mark":{"type":"line","interpolate":"monotone","stroke":"#0000ff","strokeWidth":1.5,"strokeDash":[6,3]},"encoding":{
"x":{"field":"x","type":"quantitative","axis":{"orient":"top","values":[-0.3,-0.28,-0.26,-0.24,-0.22,-0.2,-0.18,-0.16,-0.14,-0.12,-0.1,-0.08,-0.06,-0.04,-0.02,0,0.02,0.04,0.06,0.08,0.1,0.12,0.14,0.16,0.18,0.2,0.22,0.24,0.26,0.28,0.3],"labels":false,"title":null,"tickSize":{"condition":{"test":"abs(datum.value*10-round(datum.value*10))<0.001","value":-6},"value":-3}}},
"y":{"field":"y","type":"quantitative","axis":{"orient":"right","tickCount":35,"tickSize":-3,"labels":false,"title":null}}}}
]}},
{"data":{"name":"tr"},"facet":{"field":"p","type":"ordinal","title":null,"header":{"labels":false,"title":null,"labelFontSize":0.1,"labelPadding":0,"titlePadding":0,"labelExpr":"''"}},"columns":4,"bounds":"flush","spacing":{"row":69,"column":74.3},
"resolve":{"scale":{"y":"independent"},"axis":{"x":"independent","y":"independent"}},
"spec":{"width":190,"height":184,"layer":[
{"transform":[{"filter":"datum.s=='l'"}],"mark":{"type":"text","align":"left","baseline":"alphabetic","dy":-8,"fontSize":16,"font":"Liberation Sans","color":"black"},"encoding":{"x":{"datum":-0.906,"axis":null},"y":{"datum":0,"axis":null},"text":{"field":"t"}}},
{"transform":[{"filter":"datum.s=='m'"}],"mark":{"type":"point","opacity":0},"encoding":{"x":{"field":"x","type":"quantitative","axis":null},"y":{"field":"y","type":"quantitative","axis":null}}},
{"transform":[{"filter":"datum.s=='h'"}],"mark":{"type":"line","interpolate":"step-after","stroke":"#0d6b0d","strokeWidth":2.5},"encoding":{
"x":{"field":"x","type":"quantitative","scale":{"domain":[-1,1],"nice":false,"zero":false},"axis":{"orient":"bottom","values":[-1,-0.96,-0.92,-0.88,-0.84,-0.8,-0.76,-0.72,-0.68,-0.64,-0.6,-0.56,-0.52,-0.48,-0.44,-0.4,-0.36,-0.32,-0.28,-0.24,-0.2,-0.16,-0.12,-0.08,-0.04,0,0.04,0.08,0.12,0.16,0.2,0.24,0.28,0.32,0.36,0.4,0.44,0.48,0.52,0.56,0.6,0.64,0.68,0.72,0.76,0.8,0.84,0.88,0.92,0.96,1],"format":"~g","labelExpr":"abs(datum.value*5-round(datum.value*5))<0.001 ? replace(datum.label,'−','-') : ''","tickSize":{"condition":{"test":"abs(datum.value*5-round(datum.value*5))<0.001","value":-6},"value":-3},"labelPadding":9,"labelFlush":false,"labelOverlap":false,"title":"A FB","titleAnchor":"end","titlePadding":2}},
"y":{"field":"y","type":"quantitative","scale":{"nice":false,"zero":true},"axis":{"orient":"left","tickCount":7,"tickSize":-6,"labelPadding":9,"format":"d","title":"Events/0.2","titleAnchor":"end","titlePadding":4}}}},
{"transform":[{"filter":"datum.s=='t'"}],"mark":{"type":"rule","color":"black","strokeWidth":4},"encoding":{"x":{"field":"x","type":"quantitative","axis":null},"y":{"field":"y","type":"quantitative","axis":null},"y2":{"datum":0}}},
{"transform":[{"filter":"datum.s=='f'"}],"mark":{"type":"line","interpolate":"monotone","stroke":"#0000ff","strokeWidth":1.5,"strokeDash":[6,3]},"encoding":{
"x":{"field":"x","type":"quantitative","axis":{"orient":"top","values":[-1,-0.96,-0.92,-0.88,-0.84,-0.8,-0.76,-0.72,-0.68,-0.64,-0.6,-0.56,-0.52,-0.48,-0.44,-0.4,-0.36,-0.32,-0.28,-0.24,-0.2,-0.16,-0.12,-0.08,-0.04,0,0.04,0.08,0.12,0.16,0.2,0.24,0.28,0.32,0.36,0.4,0.44,0.48,0.52,0.56,0.6,0.64,0.68,0.72,0.76,0.8,0.84,0.88,0.92,0.96,1],"labels":false,"title":null,"tickSize":{"condition":{"test":"abs(datum.value*5-round(datum.value*5))<0.001","value":-6},"value":-3}}},
"y":{"field":"y","type":"quantitative","axis":{"orient":"right","tickCount":35,"tickSize":-3,"labels":false,"title":null}}}}
]}}
],"spacing":25},
{"hconcat":[
{"data":{"name":"bl"},"title":{"text":"ATLAS work in progress","font":"Liberation Serif","fontSize":38,"fontWeight":"normal","color":"black","anchor":"middle","dx":36,"offset":4},"facet":{"field":"p","type":"ordinal","title":null,"header":{"labels":false,"title":null,"labelFontSize":0.1,"labelPadding":0,"titlePadding":0,"labelExpr":"''"}},"columns":4,"bounds":"flush","spacing":{"row":69,"column":72.7},
"resolve":{"scale":{"y":"independent"},"axis":{"x":"independent","y":"independent"}},
"spec":{"width":190,"height":184,"layer":[
{"transform":[{"filter":"datum.s=='l'"}],"mark":{"type":"text","align":"left","baseline":"alphabetic","dy":-8,"fontSize":16,"font":"Liberation Sans","color":"black"},"encoding":{"x":{"datum":-0.275,"axis":null},"y":{"datum":0,"axis":null},"text":{"field":"t"}}},
{"transform":[{"filter":"datum.s=='m'"}],"mark":{"type":"point","opacity":0},"encoding":{"x":{"field":"x","type":"quantitative","axis":null},"y":{"field":"y","type":"quantitative","axis":null}}},
{"transform":[{"filter":"datum.s=='h'"}],"mark":{"type":"line","interpolate":"step-after","stroke":"#ff9a9a","strokeWidth":3.5},"encoding":{
"x":{"field":"x","type":"quantitative","scale":{"domain":[-0.3,0.3],"nice":false,"zero":false},"axis":{"orient":"bottom","values":[-0.3,-0.28,-0.26,-0.24,-0.22,-0.2,-0.18,-0.16,-0.14,-0.12,-0.1,-0.08,-0.06,-0.04,-0.02,0,0.02,0.04,0.06,0.08,0.1,0.12,0.14,0.16,0.18,0.2,0.22,0.24,0.26,0.28,0.3],"format":"~g","labelExpr":"abs(datum.value*10-round(datum.value*10))<0.001 ? replace(datum.label,'−','-') : ''","tickSize":{"condition":{"test":"abs(datum.value*10-round(datum.value*10))<0.001","value":-6},"value":-3},"labelPadding":9,"labelFlush":false,"labelOverlap":false,"title":"A FB","titleAnchor":"end","titlePadding":2}},
"y":{"field":"y","type":"quantitative","scale":{"nice":false,"zero":true},"axis":{"orient":"left","tickCount":7,"tickSize":-6,"labelPadding":9,"format":"d","title":"Events/0.2","titleAnchor":"end","titlePadding":4}}}},
{"transform":[{"filter":"datum.s=='t'"}],"mark":{"type":"rule","color":"black","strokeWidth":4},"encoding":{"x":{"field":"x","type":"quantitative","axis":null},"y":{"field":"y","type":"quantitative","axis":null},"y2":{"datum":0}}},
{"transform":[{"filter":"datum.s=='f'"}],"mark":{"type":"line","interpolate":"monotone","stroke":"#0000ff","strokeWidth":1.5,"strokeDash":[6,3]},"encoding":{
"x":{"field":"x","type":"quantitative","axis":{"orient":"top","values":[-0.3,-0.28,-0.26,-0.24,-0.22,-0.2,-0.18,-0.16,-0.14,-0.12,-0.1,-0.08,-0.06,-0.04,-0.02,0,0.02,0.04,0.06,0.08,0.1,0.12,0.14,0.16,0.18,0.2,0.22,0.24,0.26,0.28,0.3],"labels":false,"title":null,"tickSize":{"condition":{"test":"abs(datum.value*10-round(datum.value*10))<0.001","value":-6},"value":-3}}},
"y":{"field":"y","type":"quantitative","axis":{"orient":"right","tickCount":35,"tickSize":-3,"labels":false,"title":null}}}}
]}},
{"data":{"name":"br"},"title":{"text":"ATLAS work in progress","font":"Liberation Serif","fontSize":38,"fontWeight":"normal","color":"black","anchor":"middle","dx":62,"offset":4},"facet":{"field":"p","type":"ordinal","title":null,"header":{"labels":false,"title":null,"labelFontSize":0.1,"labelPadding":0,"titlePadding":0,"labelExpr":"''"}},"columns":4,"bounds":"flush","spacing":{"row":69,"column":74.3},
"resolve":{"scale":{"y":"independent"},"axis":{"x":"independent","y":"independent"}},
"spec":{"width":190,"height":184,"layer":[
{"transform":[{"filter":"datum.s=='l'"}],"mark":{"type":"text","align":"left","baseline":"alphabetic","dy":-8,"fontSize":16,"font":"Liberation Sans","color":"black"},"encoding":{"x":{"datum":-0.906,"axis":null},"y":{"datum":0,"axis":null},"text":{"field":"t"}}},
{"transform":[{"filter":"datum.s=='m'"}],"mark":{"type":"point","opacity":0},"encoding":{"x":{"field":"x","type":"quantitative","axis":null},"y":{"field":"y","type":"quantitative","axis":null}}},
{"transform":[{"filter":"datum.s=='h'"}],"mark":{"type":"line","interpolate":"step-after","stroke":"#0d6b0d","strokeWidth":2.5},"encoding":{
"x":{"field":"x","type":"quantitative","scale":{"domain":[-1,1],"nice":false,"zero":false},"axis":{"orient":"bottom","values":[-1,-0.96,-0.92,-0.88,-0.84,-0.8,-0.76,-0.72,-0.68,-0.64,-0.6,-0.56,-0.52,-0.48,-0.44,-0.4,-0.36,-0.32,-0.28,-0.24,-0.2,-0.16,-0.12,-0.08,-0.04,0,0.04,0.08,0.12,0.16,0.2,0.24,0.28,0.32,0.36,0.4,0.44,0.48,0.52,0.56,0.6,0.64,0.68,0.72,0.76,0.8,0.84,0.88,0.92,0.96,1],"format":"~g","labelExpr":"abs(datum.value*5-round(datum.value*5))<0.001 ? replace(datum.label,'−','-') : ''","tickSize":{"condition":{"test":"abs(datum.value*5-round(datum.value*5))<0.001","value":-6},"value":-3},"labelPadding":9,"labelFlush":false,"labelOverlap":false,"title":"A FB","titleAnchor":"end","titlePadding":2}},
"y":{"field":"y","type":"quantitative","scale":{"nice":false,"zero":true},"axis":{"orient":"left","tickCount":7,"tickSize":-6,"labelPadding":9,"format":"d","title":"Events/0.2","titleAnchor":"end","titlePadding":4}}}},
{"transform":[{"filter":"datum.s=='t'"}],"mark":{"type":"rule","color":"black","strokeWidth":4},"encoding":{"x":{"field":"x","type":"quantitative","axis":null},"y":{"field":"y","type":"quantitative","axis":null},"y2":{"datum":0}}},
{"transform":[{"filter":"datum.s=='f'"}],"mark":{"type":"line","interpolate":"monotone","stroke":"#0000ff","strokeWidth":1.5,"strokeDash":[6,3]},"encoding":{
"x":{"field":"x","type":"quantitative","axis":{"orient":"top","values":[-1,-0.96,-0.92,-0.88,-0.84,-0.8,-0.76,-0.72,-0.68,-0.64,-0.6,-0.56,-0.52,-0.48,-0.44,-0.4,-0.36,-0.32,-0.28,-0.24,-0.2,-0.16,-0.12,-0.08,-0.04,0,0.04,0.08,0.12,0.16,0.2,0.24,0.28,0.32,0.36,0.4,0.44,0.48,0.52,0.56,0.6,0.64,0.68,0.72,0.76,0.8,0.84,0.88,0.92,0.96,1],"labels":false,"title":null,"tickSize":{"condition":{"test":"abs(datum.value*5-round(datum.value*5))<0.001","value":-6},"value":-3}}},
"y":{"field":"y","type":"quantitative","axis":{"orient":"right","tickCount":35,"tickSize":-3,"labels":false,"title":null}}}}
]}}
],"spacing":25}
]
}
